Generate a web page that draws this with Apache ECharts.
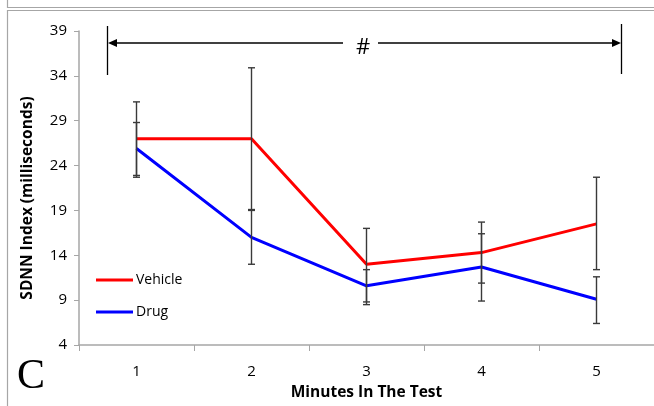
<!DOCTYPE html>
<html>
<head>
<meta charset="utf-8">
<script src="https://cdn.jsdelivr.net/npm/echarts@6/dist/echarts.min.js"></script>
<style>
html,body{margin:0;padding:0;background:#fff;}
#chart{width:654px;height:406px;}
</style>
</head>
<body>
<div id="chart"></div>
<script>
// ---- data ----
var categories = ['1', '2', '3', '4', '5'];
var vehicle = [27.0, 27.0, 13.0, 14.3, 17.5];
var vehicleLow = [22.9, 19.1, 8.5, 10.9, 12.4];
var vehicleHigh = [31.1, 34.9, 17.0, 17.7, 22.7];
var drug = [25.9, 16.0, 10.6, 12.7, 9.1];
var drugLow = [22.7, 13.0, 8.8, 8.9, 6.4];
var drugHigh = [28.8, 19.0, 12.4, 16.4, 11.6];
var yTicks = [4, 9, 14, 19, 24, 29, 34, 39];

var FONT = '"Open Sans", Lato, sans-serif';

function errData(low, high) {
  return categories.map(function (c, i) { return [i, low[i], high[i]]; });
}
function renderErr(params, api) {
  var x = api.value(0);
  var lo = api.coord([x, api.value(1)]);
  var hi = api.coord([x, api.value(2)]);
  var hw = 3.5;
  var st = { stroke: '#3a3a3a', lineWidth: 1.4 };
  return {
    type: 'group',
    children: [
      { type: 'line', shape: { x1: lo[0], y1: lo[1], x2: hi[0], y2: hi[1] }, style: st },
      { type: 'line', shape: { x1: lo[0] - hw, y1: lo[1], x2: lo[0] + hw, y2: lo[1] }, style: st },
      { type: 'line', shape: { x1: hi[0] - hw, y1: hi[1], x2: hi[0] + hw, y2: hi[1] }, style: st }
    ]
  };
}

var chart = echarts.init(document.getElementById('chart'));
var arrowY = 43;
chart.setOption({
  animation: false,
  grid: { left: 79, top: 31, width: 577, height: 317, containLabel: false },
  xAxis: {
    type: 'category',
    data: categories,
    boundaryGap: true,
    axisLine: { lineStyle: { color: '#A6A6A6', width: 1.5 } },
    axisTick: { show: true, length: 6, lineStyle: { color: '#A6A6A6' } },
    axisLabel: { color: '#000', fontSize: 15, fontFamily: FONT, margin: 19 },
    name: 'Minutes In The Test',
    nameLocation: 'middle',
    nameGap: 40,
    nameTextStyle: { color: '#000', fontSize: 15.5, fontWeight: 'bold', fontFamily: FONT }
  },
  yAxis: {
    type: 'value',
    min: yTicks[0],
    max: yTicks[yTicks.length - 1],
    interval: 5,
    splitLine: { show: false },
    axisLine: { show: true, lineStyle: { color: '#A6A6A6', width: 1.5 } },
    axisTick: { show: true, length: 5, lineStyle: { color: '#A6A6A6' } },
    axisLabel: { color: '#000', fontSize: 15, fontFamily: FONT, margin: 12 },
    name: 'SDNN Index (milliseconds)',
    nameLocation: 'middle',
    nameGap: 43,
    nameTextStyle: { color: '#000', fontSize: 15.5, fontWeight: 'bold', fontFamily: FONT, padding: [0, 20, 0, 0] }
  },
  legend: {
    left: 96,
    top: 273,
    padding: 0,
    orient: 'vertical',
    icon: 'rect',
    itemWidth: 37,
    itemHeight: 3,
    itemGap: 18,
    data: ['Vehicle', 'Drug'],
    textStyle: { color: '#000', fontSize: 14, fontFamily: FONT, padding: [0, 0, 0, -2] }
  },
  series: [
    {
      name: 'Vehicle', type: 'line', data: vehicle, showSymbol: false, symbol: 'none',
      lineStyle: { color: '#FF0000', width: 3 }, itemStyle: { color: '#FF0000' }, z: 3
    },
    {
      name: 'Drug', type: 'line', data: drug, showSymbol: false, symbol: 'none',
      lineStyle: { color: '#0000FF', width: 3 }, itemStyle: { color: '#0000FF' }, z: 3
    },
    { type: 'custom', name: 'vehErr', data: errData(vehicleLow, vehicleHigh), renderItem: renderErr, z: 4 },
    { type: 'custom', name: 'drugErr', data: errData(drugLow, drugHigh), renderItem: renderErr, z: 4 }
  ],
  graphic: [
    { type: 'polyline', shape: { points: [[7.5, 0], [7.5, 7.5], [660, 7.5]] }, style: { stroke: '#A6A6A6', fill: null, lineWidth: 1.2 } },
    { type: 'rect', shape: { x: 7.5, y: 10.5, width: 700, height: 500 }, style: { stroke: '#A6A6A6', fill: null, lineWidth: 1.2 } },
    { type: 'line', shape: { x1: 107.5, y1: 26, x2: 107.5, y2: 75 }, style: { stroke: '#000', lineWidth: 1.3 } },
    { type: 'line', shape: { x1: 621.5, y1: 24, x2: 621.5, y2: 74 }, style: { stroke: '#000', lineWidth: 1.3 } },
    { type: 'line', shape: { x1: 112, y1: arrowY, x2: 343, y2: arrowY }, style: { stroke: '#000', lineWidth: 1.3 } },
    { type: 'line', shape: { x1: 378, y1: arrowY, x2: 616, y2: arrowY }, style: { stroke: '#000', lineWidth: 1.3 } },
    { type: 'polygon', shape: { points: [[108, arrowY], [117, arrowY - 4], [117, arrowY + 4]] }, style: { fill: '#000' } },
    { type: 'polygon', shape: { points: [[621, arrowY], [612, arrowY - 4], [612, arrowY + 4]] }, style: { fill: '#000' } },
    { type: 'text', x: 363, y: 48, style: { text: '#', font: '22px ' + FONT, fill: '#000', align: 'center', verticalAlign: 'middle' } },
    { type: 'text', x: 31, y: 377, style: { text: 'C', font: '42px "Liberation Serif", serif', fill: '#000', align: 'center', verticalAlign: 'middle' } }
  ]
});
</script>
</body>
</html>
